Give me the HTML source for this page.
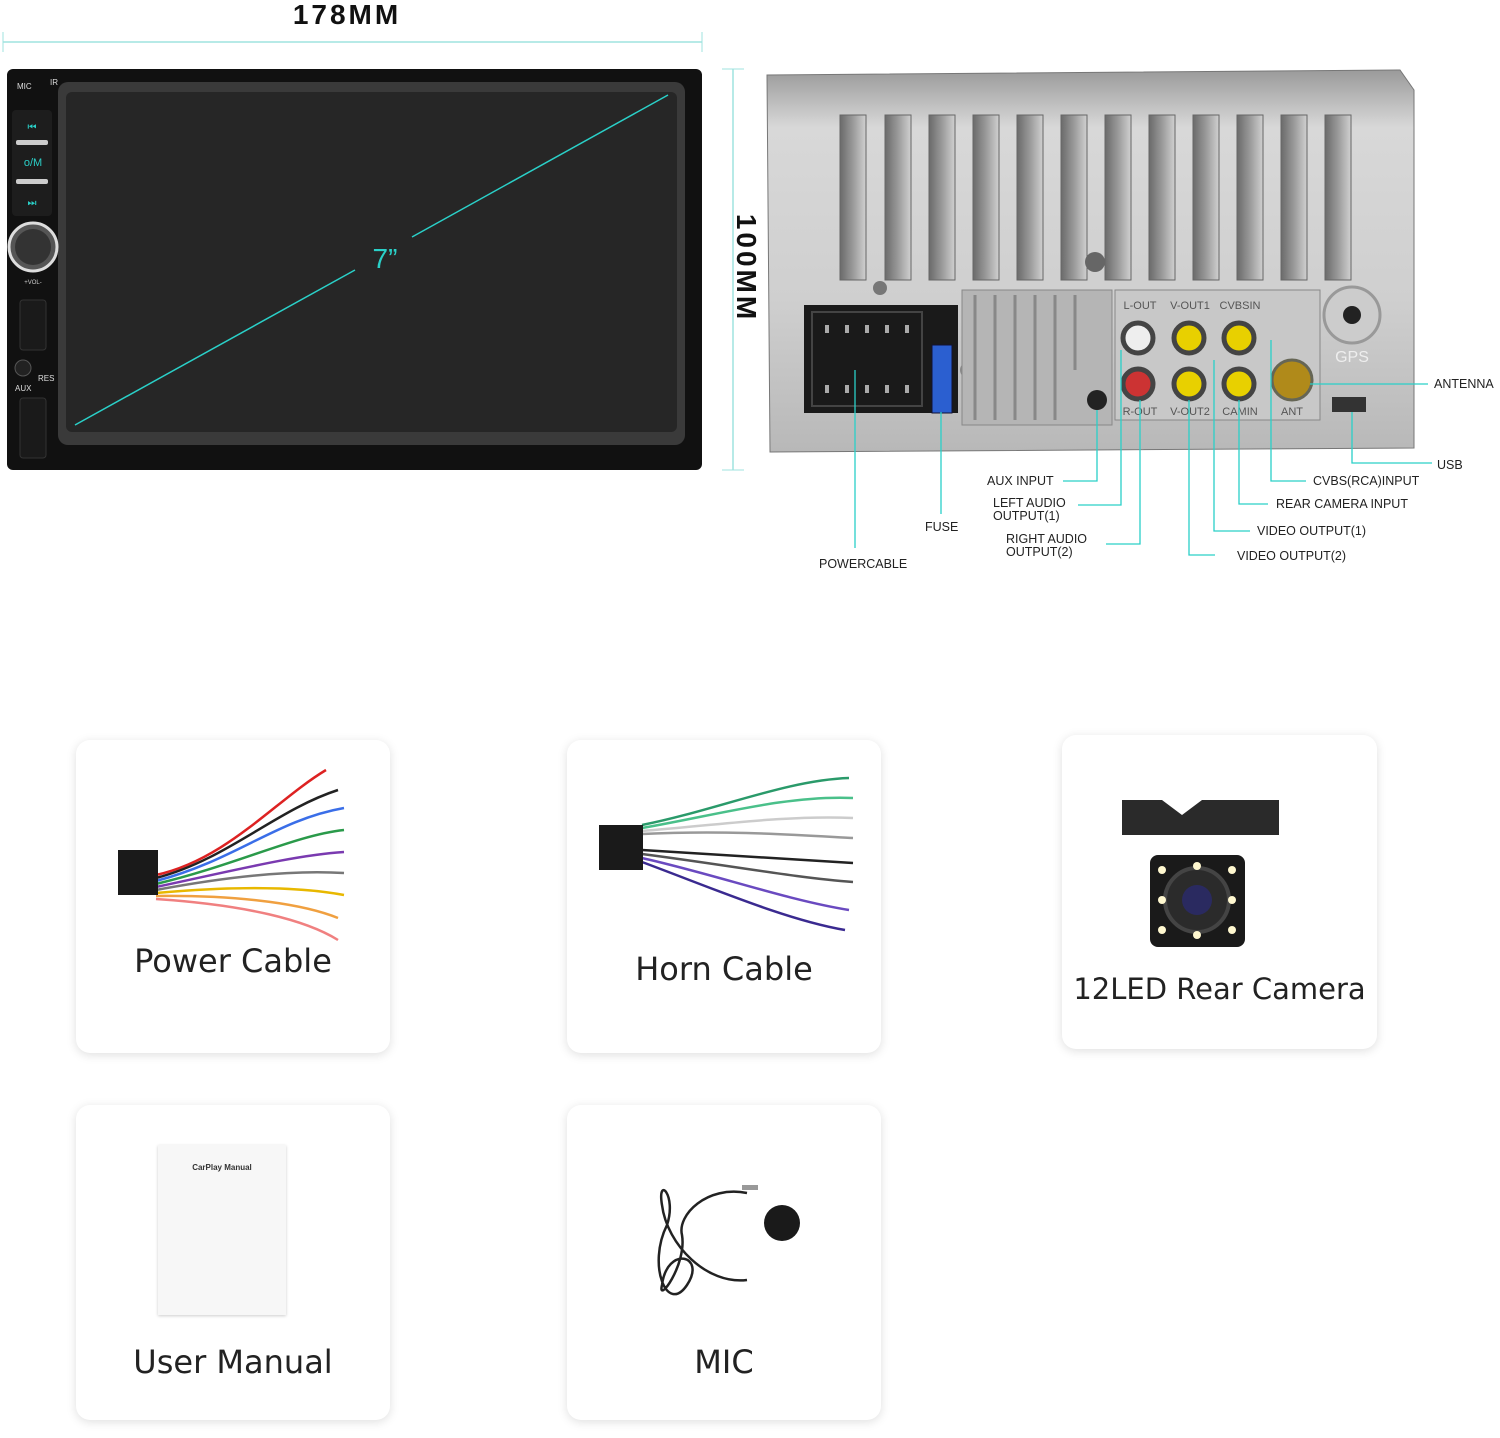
<!DOCTYPE html>
<html><head><meta charset="utf-8"><style>
body{margin:0;width:1500px;height:1438px;background:#fff;position:relative;overflow:hidden;font-family:"Liberation Sans",sans-serif}
.card{position:absolute;background:#fff;border-radius:14px;box-shadow:0 2px 10px rgba(0,0,0,.13)}
.lbl{position:absolute;width:100%;text-align:center;font-size:32px;color:#222;left:0;white-space:nowrap;font-family:"DejaVu Sans","Liberation Sans",sans-serif}
</style></head><body>
<svg width="1500" height="700" style="position:absolute;left:0;top:0" font-family="Liberation Sans, sans-serif">
<defs>
<linearGradient id="bk" x1="0" y1="0" x2="0" y2="1"><stop offset="0" stop-color="#9a9a9a"/><stop offset=".15" stop-color="#d8d8d8"/><stop offset=".6" stop-color="#cfcfcf"/><stop offset="1" stop-color="#b8b8b8"/></linearGradient>
<linearGradient id="vs" x1="0" y1="0" x2="1" y2="0"><stop offset="0" stop-color="#6a6a6a"/><stop offset=".5" stop-color="#9a9a9a"/><stop offset="1" stop-color="#d0d0d0"/></linearGradient>
</defs>
<text x="347" y="24" font-size="28" font-weight="bold" text-anchor="middle" letter-spacing="3" fill="#111">178MM</text>
<line x1="3" y1="42" x2="702" y2="42" stroke="#9fe3df" stroke-width="1.5"/>
<line x1="3" y1="32" x2="3" y2="52" stroke="#9fe3df"/><line x1="702" y1="32" x2="702" y2="52" stroke="#9fe3df"/>
<rect x="7" y="69" width="695" height="401" rx="6" fill="#111"/>
<rect x="58" y="82" width="627" height="363" rx="10" fill="#3a3a3a"/>
<rect x="66" y="92" width="611" height="340" rx="6" fill="#262626"/>
<line x1="75" y1="425" x2="355" y2="270" stroke="#2ad0c8" stroke-width="1.5"/>
<line x1="412" y1="237" x2="668" y2="95" stroke="#2ad0c8" stroke-width="1.5"/>
<text x="385" y="268" font-size="28" fill="#2ad0c8" text-anchor="middle">7”</text>
<text x="17" y="89" font-size="8" fill="#ddd">MIC</text><text x="50" y="85" font-size="8" fill="#ddd">IR</text>
<rect x="12" y="110" width="40" height="106" rx="4" fill="#1d1d1d"/>
<text x="32" y="130" font-size="10" fill="#2ad0c8" text-anchor="middle">⏮</text>
<rect x="16" y="140" width="32" height="5" rx="2" fill="#ccc"/>
<text x="33" y="166" font-size="11" fill="#2ad0c8" text-anchor="middle">o/M</text>
<rect x="16" y="179" width="32" height="5" rx="2" fill="#ccc"/>
<text x="32" y="206" font-size="10" fill="#2ad0c8" text-anchor="middle">⏭</text>
<circle cx="33" cy="247" r="24" fill="#555" stroke="#ddd" stroke-width="3"/>
<circle cx="33" cy="247" r="18" fill="#333"/>
<text x="33" y="284" font-size="6" fill="#ccc" text-anchor="middle">+VOL-</text>
<rect x="20" y="300" width="26" height="50" rx="3" fill="#1a1a1a" stroke="#333"/>
<circle cx="23" cy="368" r="8" fill="#222" stroke="#555"/>
<text x="38" y="381" font-size="8" fill="#ddd">RES</text><text x="15" y="391" font-size="8" fill="#ddd">AUX</text>
<rect x="20" y="398" width="26" height="60" rx="3" fill="#1a1a1a" stroke="#333"/>
<line x1="733" y1="69" x2="733" y2="470" stroke="#9fe3df" stroke-width="1.5"/>
<line x1="722" y1="69" x2="744" y2="69" stroke="#9fe3df"/><line x1="722" y1="470" x2="744" y2="470" stroke="#9fe3df"/>
<text transform="translate(737,268) rotate(90)" font-size="28" font-weight="bold" text-anchor="middle" letter-spacing="3" fill="#111">100MM</text>
<path d="M767 75 L1400 70 L1414 90 L1414 448 L770 452 Z" fill="url(#bk)" stroke="#777"/>
<g fill="url(#vs)" stroke="#666">
<rect x="840" y="115" width="26" height="165"/><rect x="885" y="115" width="26" height="165"/><rect x="929" y="115" width="26" height="165"/><rect x="973" y="115" width="26" height="165"/><rect x="1017" y="115" width="26" height="165"/><rect x="1061" y="115" width="26" height="165"/><rect x="1105" y="115" width="26" height="165"/><rect x="1149" y="115" width="26" height="165"/><rect x="1193" y="115" width="26" height="165"/><rect x="1237" y="115" width="26" height="165"/><rect x="1281" y="115" width="26" height="165"/><rect x="1325" y="115" width="26" height="165"/>
</g>
<circle cx="1095" cy="262" r="10" fill="#666"/><circle cx="880" cy="288" r="7" fill="#777"/>
<rect x="804" y="305" width="154" height="108" fill="#1a1a1a"/>
<g fill="#aaa"><rect x="825" y="325" width="4" height="8"/><rect x="845" y="325" width="4" height="8"/><rect x="865" y="325" width="4" height="8"/><rect x="885" y="325" width="4" height="8"/><rect x="905" y="325" width="4" height="8"/><rect x="825" y="385" width="4" height="8"/><rect x="845" y="385" width="4" height="8"/><rect x="865" y="385" width="4" height="8"/><rect x="885" y="385" width="4" height="8"/><rect x="905" y="385" width="4" height="8"/></g>
<rect x="812" y="312" width="110" height="94" fill="none" stroke="#444" stroke-width="2"/>
<rect x="932" y="345" width="20" height="68" fill="#2b5fd0" stroke="#113" />
<circle cx="968" cy="370" r="8" fill="#888"/>
<rect x="962" y="290" width="150" height="135" fill="#b5b5b5" stroke="#888"/>
<g stroke="#888" stroke-width="3"><line x1="975" y1="295" x2="975" y2="420"/><line x1="995" y1="295" x2="995" y2="420"/><line x1="1015" y1="295" x2="1015" y2="420"/><line x1="1035" y1="295" x2="1035" y2="420"/><line x1="1055" y1="295" x2="1055" y2="420"/><line x1="1075" y1="295" x2="1075" y2="370"/></g>
<rect x="1115" y="290" width="205" height="130" fill="#c8c8c8" stroke="#888"/>
<text x="1140" y="309" font-size="11" fill="#555" text-anchor="middle">L-OUT</text><text x="1190" y="309" font-size="11" fill="#555" text-anchor="middle">V-OUT1</text><text x="1240" y="309" font-size="11" fill="#555" text-anchor="middle">CVBSIN</text>
<circle cx="1138" cy="338" r="15" fill="#eee" stroke="#444" stroke-width="5"/><circle cx="1138" cy="384" r="15" fill="#c33" stroke="#444" stroke-width="5"/>
<circle cx="1189" cy="338" r="15" fill="#e8d000" stroke="#444" stroke-width="5"/><circle cx="1189" cy="384" r="15" fill="#e8d000" stroke="#444" stroke-width="5"/>
<circle cx="1239" cy="338" r="15" fill="#e8d000" stroke="#444" stroke-width="5"/><circle cx="1239" cy="384" r="15" fill="#e8d000" stroke="#444" stroke-width="5"/>
<text x="1140" y="415" font-size="11" fill="#555" text-anchor="middle">R-OUT</text><text x="1190" y="415" font-size="11" fill="#555" text-anchor="middle">V-OUT2</text><text x="1240" y="415" font-size="11" fill="#555" text-anchor="middle">CAMIN</text>
<circle cx="1097" cy="400" r="10" fill="#222"/>
<circle cx="1352" cy="315" r="28" fill="#ccc" stroke="#999" stroke-width="3"/><circle cx="1352" cy="315" r="9" fill="#222"/>
<text x="1352" y="362" font-size="16" fill="#eee" text-anchor="middle">GPS</text>
<circle cx="1292" cy="380" r="20" fill="#b08a1a" stroke="#665" stroke-width="3"/><text x="1292" y="415" font-size="11" fill="#555" text-anchor="middle">ANT</text>
<rect x="1332" y="397" width="34" height="15" fill="#333"/>
<g stroke="#2ad0c8" stroke-width="1.3" fill="none">
<path d="M1310 384 H1428"/><path d="M1352 412 V463 H1432"/><path d="M1271 340 V481 H1306"/>
<path d="M1239 400 V504 H1268"/><path d="M1214 360 V531 H1250"/><path d="M1189 400 V555 H1215"/>
<path d="M1097 410 V481 H1063"/><path d="M1121 350 V505 H1078"/><path d="M1140 400 V544 H1106"/>
<path d="M941 412 V514"/><path d="M855 370 V548"/>
</g>
<g font-size="12.5" fill="#222">
<text x="1434" y="388">ANTENNA</text><text x="1437" y="469">USB</text><text x="1313" y="485">CVBS(RCA)INPUT</text>
<text x="1276" y="508">REAR CAMERA INPUT</text><text x="1257" y="535">VIDEO OUTPUT(1)</text><text x="1237" y="560">VIDEO OUTPUT(2)</text>
<text x="987" y="485">AUX INPUT</text><text x="993" y="507">LEFT AUDIO</text><text x="993" y="520">OUTPUT(1)</text>
<text x="1006" y="543">RIGHT AUDIO</text><text x="1006" y="556">OUTPUT(2)</text>
<text x="925" y="531">FUSE</text><text x="819" y="568">POWERCABLE</text>
</g>
</svg>

<div class="card" style="left:76px;top:740px;width:314px;height:313px">
<svg width="314" height="200" style="position:absolute;left:0;top:20px"><g fill="none" stroke-width="2.5">
<path d="M80 115 C150 100 200 40 250 10" stroke="#d22"/><path d="M80 118 C150 100 200 50 262 30" stroke="#222"/><path d="M80 121 C160 100 200 60 268 48" stroke="#3a6ee8"/><path d="M80 124 C160 105 220 75 268 70" stroke="#2a9a4a"/><path d="M80 127 C160 110 220 95 268 92" stroke="#7a3ab0"/><path d="M80 130 C160 115 220 110 268 113" stroke="#777"/><path d="M80 133 C170 125 230 128 268 135" stroke="#e8b800"/><path d="M80 136 C170 135 230 145 262 158" stroke="#f0a040"/><path d="M80 139 C170 145 230 160 262 180" stroke="#f08080"/></g>
<rect x="42" y="90" width="40" height="45" fill="#1a1a1a"/></svg>
<div class="lbl" style="top:202px">Power Cable</div></div>

<div class="card" style="left:567px;top:740px;width:314px;height:313px">
<svg width="314" height="200" style="position:absolute;left:0;top:30px"><g fill="none" stroke-width="2.5">
<path d="M75 55 C150 40 220 10 282 8" stroke="#2a9a6a"/><path d="M75 58 C150 45 220 25 286 28" stroke="#4ac08a"/><path d="M75 61 C150 55 220 45 286 48" stroke="#ccc"/><path d="M75 64 C160 60 230 65 286 68" stroke="#999"/><path d="M75 80 C160 85 230 90 286 93" stroke="#222"/><path d="M75 84 C160 95 230 108 286 112" stroke="#555"/><path d="M75 88 C150 105 220 130 282 140" stroke="#6a4ac0"/><path d="M75 92 C150 120 220 150 278 160" stroke="#3a2a90"/></g>
<rect x="32" y="55" width="44" height="45" fill="#1a1a1a"/></svg>
<div class="lbl" style="top:210px">Horn Cable</div></div>

<div class="card" style="left:1062px;top:735px;width:315px;height:314px">
<svg width="315" height="220" style="position:absolute;left:0;top:55px">
<path d="M60 10 H100 L120 25 L140 10 H217 V45 H60 Z" fill="#2a2a2a"/>
<rect x="88" y="65" width="95" height="92" rx="8" fill="#1a1a1a"/>
<circle cx="135" cy="110" r="32" fill="#2b2b2b" stroke="#444" stroke-width="4"/><circle cx="135" cy="110" r="15" fill="#2a2a60"/>
<g fill="#fff8d0"><circle cx="100" cy="80" r="4"/><circle cx="170" cy="80" r="4"/><circle cx="100" cy="140" r="4"/><circle cx="170" cy="140" r="4"/><circle cx="100" cy="110" r="4"/><circle cx="170" cy="110" r="4"/><circle cx="135" cy="76" r="4"/><circle cx="135" cy="145" r="4"/></g>
</svg>
<div class="lbl" style="top:237px;font-size:29px">12LED Rear Camera</div></div>

<div class="card" style="left:76px;top:1105px;width:314px;height:315px">
<div style="position:absolute;left:82px;top:40px;width:128px;height:170px;background:#f7f7f7;box-shadow:0 1px 3px rgba(0,0,0,.2)">
<div style="font-size:8px;text-align:center;margin-top:18px;color:#333;font-weight:bold">CarPlay Manual</div></div>
<div class="lbl" style="top:238px">User Manual</div></div>

<div class="card" style="left:567px;top:1105px;width:314px;height:315px">
<svg width="314" height="200" style="position:absolute;left:0;top:50px"><g fill="none" stroke="#222" stroke-width="2.5">
<path d="M180 38 C140 30 110 60 115 80 C120 110 90 150 95 130 C100 90 140 100 120 130 C100 160 80 110 100 70 C110 40 90 20 95 50 C100 90 140 130 180 125"/></g>
<circle cx="215" cy="68" r="18" fill="#1a1a1a"/><rect x="175" y="30" width="16" height="5" fill="#999"/></svg>
<div class="lbl" style="top:238px">MIC</div></div>
</body></html>
